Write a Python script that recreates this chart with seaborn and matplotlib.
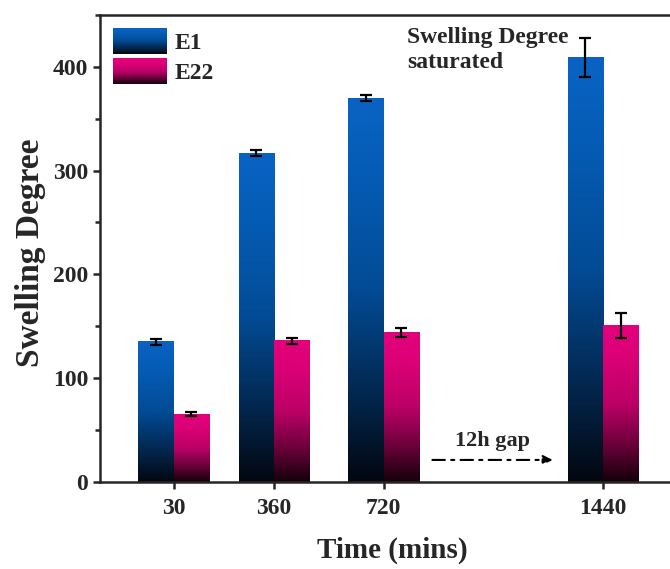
import numpy as np
import pandas as pd
import seaborn as sns
import matplotlib
matplotlib.use('Agg')
import matplotlib.pyplot as plt
from matplotlib.colors import LinearSegmentedColormap
from matplotlib.legend_handler import HandlerBase
from matplotlib.patches import Rectangle, Patch
from matplotlib.ticker import MultipleLocator

# data
times = [30, 360, 720, 1440]
tick_labels = ['30', '360', '720', '1440']
e1 = [135, 317, 370, 409]
e1_err = [3, 3, 3, 19]
e22 = [65, 136, 144, 151]
e22_err = [2, 3, 4, 12]
samples = ['E1', 'E22']

df = pd.DataFrame({
    'Time': times + times,
    'Swelling': e1 + e22,
    'Sample': ['E1'] * len(times) + ['E22'] * len(times),
})
errs = {'E1': e1_err, 'E22': e22_err}

cmaps = {
    'E1': LinearSegmentedColormap.from_list('e1', [(0, '#020710'), (0.25, '#022a55'), (0.5, '#024b95'),
                                                  (0.8, '#055cb5'), (1, '#0a63c4')]),
    'E22': LinearSegmentedColormap.from_list('e22', [(0, '#14000a'), (0.25, '#6e003c'), (0.5, '#bb0066'),
                                                    (0.8, '#db0076'), (1, '#e4007c')]),
}

sns.set_style('ticks')
plt.rcParams['font.family'] = ['Liberation Serif', 'DejaVu Serif']
plt.rcParams['font.weight'] = 'bold'

fig = plt.figure(figsize=(6.7, 5.69), dpi=100)
ax = fig.add_axes([0.149, 0.1534, 0.86, 0.8202])

sns.barplot(data=df, x='Time', y='Swelling', hue='Sample', native_scale=True, width=0.7,
            palette=['#0a63c4', '#e4007c'], saturation=1, errorbar=None, legend=False,
            linewidth=0, ax=ax)

xlim = (-212, 1680)
ylim = (0, 450)

# gradient fill + error bars
grad = np.linspace(0, 1, 256).reshape(-1, 1)
for cont, name in zip(ax.containers, samples):
    bars = sorted(cont.patches, key=lambda b: b.get_x())
    for bar, err in zip(bars, errs[name]):
        x0, w, h = bar.get_x(), bar.get_width(), bar.get_height()
        bar.set_facecolor('none')
        ax.imshow(grad, extent=[x0, x0 + w, 0, h], origin='lower', aspect='auto',
                  cmap=cmaps[name], zorder=2)
        ax.errorbar(x0 + w / 2, h, yerr=err, color='black', lw=1.6, capsize=4,
                    capthick=1.6, zorder=3)

ax.set_xlim(*xlim)
ax.set_ylim(*ylim)
ax.set_xticks(times)
ax.set_xticklabels(tick_labels)
ax.yaxis.set_major_locator(MultipleLocator(100))
ax.yaxis.set_minor_locator(MultipleLocator(50))
ax.tick_params(axis='both', which='major', direction='out', length=5, width=1.8, labelsize=17)
ax.tick_params(axis='x', which='major', pad=7)
ax.tick_params(axis='y', which='minor', direction='out', length=3.5, width=1.8)
for lab in ax.get_xticklabels() + ax.get_yticklabels():
    lab.set_fontweight('bold')

for s in ['left', 'bottom', 'top']:
    ax.spines[s].set_linewidth(1.8)
ax.spines['right'].set_visible(False)

ax.set_xlabel('Time (mins)', fontsize=21, fontweight='bold')
ax.set_ylabel('Swelling Degree', fontsize=24, fontweight='bold')
ax.xaxis.set_label_coords(0.507, -0.117)
ax.yaxis.set_label_coords(-0.093, 0.49)

ax.text(796, 438, 'Swelling Degree\nsaturated', fontsize=17, fontweight='bold',
        ha='left', va='top', linespacing=1.25)
ax.text(1076, 30, '12h gap', fontsize=16, fontweight='bold', ha='center', va='bottom')
ax.annotate('', xy=(1275, 21), xytext=(880, 21),
            arrowprops=dict(arrowstyle='-|>', linestyle=(0, (6, 3, 1.5, 3)), color='black',
                            lw=1.5, mutation_scale=14, shrinkA=0, shrinkB=0))


class GradientHandler(HandlerBase):
    def __init__(self, cmap):
        super().__init__()
        self.cmap = cmap

    def create_artists(self, legend, orig_handle, xdescent, ydescent, width, height, fontsize, trans):
        n = 40
        arts = []
        for k in range(n):
            r = Rectangle((-xdescent, -ydescent + height * k / n), width, height / n * 1.05,
                          facecolor=self.cmap(k / (n - 1)), edgecolor='none', transform=trans)
            arts.append(r)
        return arts


handles = [Patch(label=s) for s in samples]
leg = ax.legend(handles=handles, labels=samples, loc='upper left', frameon=False,
                prop={'size': 17, 'weight': 'bold'}, handlelength=2.3, handleheight=1.3,
                handletextpad=0.3, labelspacing=0.2, borderaxespad=0.25, borderpad=0.3,
                handler_map={handles[0]: GradientHandler(cmaps['E1']),
                             handles[1]: GradientHandler(cmaps['E22'])})

fig.savefig('out.png', dpi=100)
